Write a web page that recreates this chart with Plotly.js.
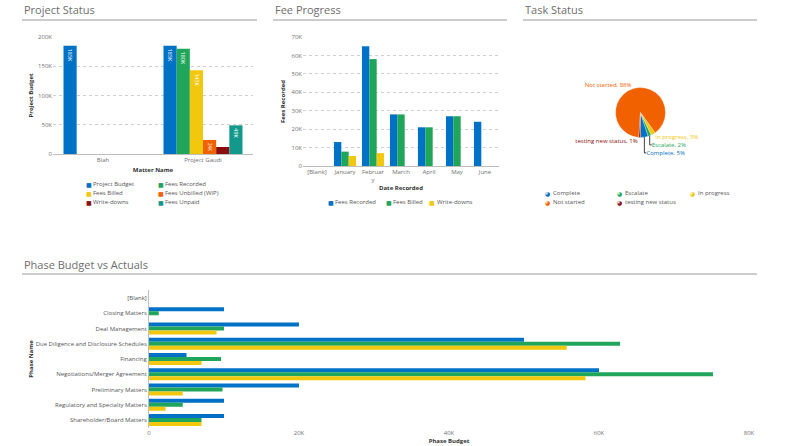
<!DOCTYPE html>
<html>
<head>
<meta charset="utf-8">
<script src="https://cdn.plot.ly/plotly-3.0.1.min.js"></script>
<style>
html,body{margin:0;padding:0;background:#fff;}
#chart{width:792px;height:446px;}
</style>
</head>
<body>
<div id="chart"></div>
<script>
// ---------- Project Status ----------
const matterNames = ['Blah', 'Project Gaudi'];
const projectBudget = [185000, 185000];
const feesRecorded = [null, 180000];
const feesBilled = [null, 143000];
const feesUnbilled = [null, 24000];
const writeDowns = [null, 12000];
const feesUnpaid = [null, 49000];
const statusSeriesNames = ['Project Budget', 'Fees Recorded', 'Fees Billed', 'Fees Unbilled (WIP)', 'Write-downs', 'Fees Unpaid'];
const statusTickVals = [0, 50000, 100000, 150000, 200000];
const statusTickText = ['0', '50K', '100K', '150K', '200K'];

// ---------- Fee Progress ----------
const months = ['[Blank]', 'January', 'February', 'March', 'April', 'May', 'June'];
const monthLabels = ['[Blank]', 'January', 'Februar<br>y', 'March', 'April', 'May', 'June'];
const monthFeesRecorded = [null, 13000, 65000, 28000, 21000, 27000, 24000];
const monthFeesBilled = [null, 7800, 58000, 28000, 21000, 27000, null];
const monthWriteDowns = [null, 5400, 7000, null, null, null, null];
const feeSeriesNames = ['Fees Recorded', 'Fees Billed', 'Write-downs'];
const feeTickVals = [0, 10000, 20000, 30000, 40000, 50000, 60000, 70000];
const feeTickText = ['0', '10K', '20K', '30K', '40K', '50K', '60K', '70K'];

// ---------- Task Status ----------
const taskLabels = ['Complete', 'Escalate', 'In progress', 'Not started', 'testing new status'];
const taskValues = [5, 2, 3, 88, 1];

// ---------- Phase Budget vs Actuals ----------
const phaseNames = ['[Blank]', 'Closing Matters', 'Deal Management', 'Due Diligence and Disclosure Schedules', 'Financing', 'Negotiations/Merger Agreement', 'Preliminary Matters', 'Regulatory and Specialty Matters', 'Shareholder/Board Matters'];
const phaseBudget = [null, 10000, 20000, 50000, 5000, 60000, 20000, 10000, 10000];
const phaseFeesRecorded = [null, 1300, 10000, 62800, 9600, 75200, 9800, 4500, 7000];
const phaseFeesBilled = [null, null, 9000, 55700, 7000, 58200, 4500, 2200, 7000];
const phaseSeriesNames = ['Phase Budget', 'Fees Recorded', 'Fees Billed'];
const phaseTickVals = [0, 20000, 40000, 60000, 80000];
const phaseTickText = ['0', '20K', '40K', '60K', '80K'];

// ---------- helpers / styles ----------
const W = 792, H = 446;
const fx = v => v / W;
const fy = v => 1 - v / H;
const COL = {blue: '#0072C6', green: '#1FA65B', yellow: '#F2C80F', orange: '#F26100', darkred: '#8A0E0E', teal: '#13998C'};
const FONT = 'Open Sans, Segoe UI, sans-serif';
const fmtK = v => (v == null ? '' : Math.round(v / 1000) + 'K');

const traces = [];

// Project Status bars
const statusSeries = [projectBudget, feesRecorded, feesBilled, feesUnbilled, writeDowns, feesUnpaid];
const statusColors = [COL.blue, COL.green, COL.yellow, COL.orange, COL.darkred, COL.teal];
statusSeries.forEach((vals, i) => {
  traces.push({
    type: 'bar', x: matterNames, y: vals, name: statusSeriesNames[i],
    marker: {color: statusColors[i]}, xaxis: 'x', yaxis: 'y', showlegend: false,
    text: vals.map(fmtK), textposition: statusSeriesNames[i] === 'Write-downs' ? 'none' : 'inside',
    insidetextanchor: 'end', textangle: 90, textfont: {color: '#ffffff', size: 6, family: FONT}
  });
});

// Fee Progress bars
const feeSeries = [monthFeesRecorded, monthFeesBilled, monthWriteDowns];
const feeColors = [COL.blue, COL.green, COL.yellow];
feeSeries.forEach((vals, i) => {
  traces.push({
    type: 'bar', x: months, y: vals, name: feeSeriesNames[i],
    marker: {color: feeColors[i]}, xaxis: 'x2', yaxis: 'y2', showlegend: false
  });
});

// Phase bars
const phaseSeries = [phaseBudget, phaseFeesRecorded, phaseFeesBilled];
phaseSeries.forEach((vals, i) => {
  traces.push({
    type: 'bar', orientation: 'h', y: phaseNames, x: vals, name: phaseSeriesNames[i],
    marker: {color: feeColors[i]}, xaxis: 'x3', yaxis: 'y3', showlegend: false
  });
});

// Task pie
const taskColors = [COL.blue, COL.green, COL.yellow, COL.orange, COL.darkred];
traces.push({
  type: 'pie', labels: taskLabels, values: taskValues, sort: false,
  direction: 'counterclockwise', rotation: 162,
  marker: {colors: taskColors, line: {color: '#ffffff', width: 0.3}},
  textposition: 'outside', texttemplate: '%{label}, %{value}%',
  textfont: {size: 6, color: taskColors, family: FONT},
  domain: {x: [fx(615.5), fx(665.5)], y: [fy(137.5), fy(87.5)]},
  showlegend: false, automargin: false
});

// ---------- legends (icon + label, built from the series arrays) ----------
const legendAnn = [];
function addLegend(names, colors, glyph, xs, ys, cols) {
  names.forEach((n, i) => {
    const x = xs[i % cols], y = ys[Math.floor(i / cols)];
    legendAnn.push({text: glyph, xref: 'paper', yref: 'paper', x: fx(x), y: fy(y), xanchor: 'left', yanchor: 'middle',
      showarrow: false, font: {size: 6, color: colors[i], family: 'DejaVu Sans'}});
    legendAnn.push({text: n, xref: 'paper', yref: 'paper', x: fx(x + 7.5), y: fy(y), xanchor: 'left', yanchor: 'middle',
      showarrow: false, font: {size: 6, color: '#555555', family: FONT}});
  });
}
addLegend(statusSeriesNames, statusColors, '■', [83.5, 155.5], [184, 193, 202], 2);
addLegend(feeSeriesNames, feeColors, '■', [325.5, 383.5, 427], [202], 3);
addLegend(taskLabels, taskColors, '◕', [543, 615, 688], [193, 202], 3);

// ---------- layout ----------
const tickFont = {size: 6, color: '#707070', family: FONT};
const axTitleFont = {size: 6, color: '#333333', family: FONT, weight: 'bold'};

const sections = [
  {text: 'Project Status', x0: 22, x1: 257, y: 10, ly: 20},
  {text: 'Fee Progress', x0: 273, x1: 507, y: 10, ly: 20},
  {text: 'Task Status', x0: 523, x1: 757, y: 10, ly: 20},
  {text: 'Phase Budget vs Actuals', x0: 22, x1: 757, y: 264, ly: 274}
];

const layout = {
  width: W, height: H,
  margin: {l: 0, r: 0, t: 0, b: 0},
  paper_bgcolor: '#ffffff', plot_bgcolor: '#ffffff',
  font: {family: FONT, size: 6, color: '#666666'},
  barmode: 'group', bargap: 0.21, bargroupgap: 0,
  hovermode: false, showlegend: false,
  xaxis: {
    domain: [fx(53), fx(253)], anchor: 'y', type: 'category', range: [-0.5, 1.5],
    showline: true, linecolor: '#bdbdbd', linewidth: 1, showgrid: false, ticks: '',
    tickfont: tickFont, title: {text: 'Matter Name', font: axTitleFont, standoff: 4}
  },
  yaxis: {
    domain: [fy(154), fy(37)], anchor: 'x', range: [0, 200000],
    tickvals: statusTickVals, ticktext: statusTickText, tickfont: tickFont,
    showgrid: true, gridcolor: '#cfcfcf', griddash: 'dot', gridwidth: 1, zeroline: false, showline: false,
    title: {text: 'Project Budget', font: axTitleFont, standoff: 3}
  },
  xaxis2: {
    domain: [fx(303), fx(499)], anchor: 'y2', type: 'category', range: [-0.5, 6.5],
    tickvals: months, ticktext: monthLabels,
    showline: true, linecolor: '#bdbdbd', linewidth: 1, showgrid: false, ticks: '',
    tickfont: tickFont, title: {text: 'Date Recorded', font: axTitleFont, standoff: 2}
  },
  yaxis2: {
    domain: [fy(166), fy(37)], anchor: 'x2', range: [0, 70000],
    tickvals: feeTickVals, ticktext: feeTickText, tickfont: tickFont,
    showgrid: true, gridcolor: '#cfcfcf', griddash: 'dot', gridwidth: 1, zeroline: false, showline: false,
    title: {text: 'Fees Recorded', font: axTitleFont, standoff: 5}
  },
  xaxis3: {
    domain: [fx(149), fx(749)], anchor: 'y3', range: [0, 80000],
    tickvals: phaseTickVals, ticktext: phaseTickText, tickfont: tickFont,
    showgrid: false, zeroline: false, showline: false, ticks: '',
    title: {text: 'Phase Budget', font: axTitleFont, standoff: 2}
  },
  yaxis3: {
    domain: [fy(427.6), fy(290.4)], anchor: 'x3', type: 'category', range: [8.5, -0.5],
    showline: true, linecolor: '#bdbdbd', linewidth: 1, showgrid: false, ticks: '',
    tickfont: {size: 6, color: '#555555', family: FONT},
    title: {text: 'Phase Name', font: axTitleFont, standoff: 1}
  },
  annotations: sections.map(s => ({
    text: s.text, xref: 'paper', yref: 'paper', x: fx(s.x0), y: fy(s.y),
    xanchor: 'left', yanchor: 'middle', showarrow: false,
    font: {size: 11, color: '#6e6e6e', family: FONT}
  })).concat(legendAnn),
  shapes: sections.map(s => ({
    type: 'line', xref: 'paper', yref: 'paper', x0: fx(s.x0), x1: fx(s.x1), y0: fy(s.ly), y1: fy(s.ly),
    line: {color: '#9a9a9a', width: 1}
  }))
};

Plotly.newPlot('chart', traces, layout, {displayModeBar: false, staticPlot: true});
</script>
</body>
</html>
